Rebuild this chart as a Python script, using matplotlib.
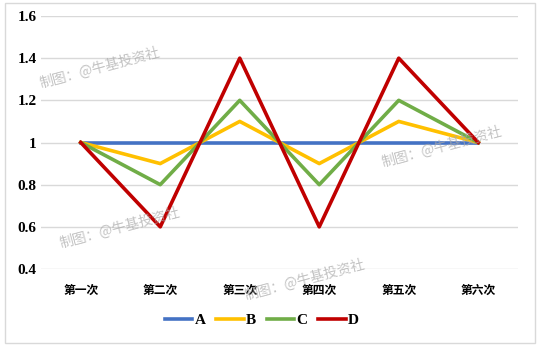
import matplotlib.pyplot as plt
from matplotlib.patches import Rectangle

categories = ['第一次', '第二次', '第三次', '第四次', '第五次', '第六次']
series_names = ['A', 'B', 'C', 'D']
A = [1, 1, 1, 1, 1, 1]
B = [1, 0.9, 1.1, 0.9, 1.1, 1]
C = [1, 0.8, 1.2, 0.8, 1.2, 1]
D = [1, 0.6, 1.4, 0.6, 1.4, 1]
colors = ['#4472C4', '#FFC000', '#70AD47', '#C00000']
yticks = [0.4, 0.6, 0.8, 1.0, 1.2, 1.4, 1.6]
ytick_labels = ['0.4', '0.6', '0.8', '1', '1.2', '1.4', '1.6']

W, H = 540, 348
fig = plt.figure(figsize=(W / 100, H / 100), dpi=100)
fig.patches.append(Rectangle((5 / W, 5 / H), 530 / W, 340 / H, transform=fig.transFigure,
                             fill=False, edgecolor='#d9d9d9', linewidth=1))
ax = fig.add_axes([41 / W, 1 - 269 / H, 477 / W, 253 / H])

x = list(range(len(categories)))
for name, vals, c in zip(series_names, [A, B, C, D], colors):
    ax.plot(x, vals, color=c, linewidth=2.6, label=name)

ax.set_xlim(-0.5, 5.5)
ax.set_ylim(0.4, 1.6)
ax.set_yticks(yticks)
ax.set_yticklabels(ytick_labels, fontfamily='Liberation Serif', fontweight='bold', fontsize=11)
ax.set_xticks(x)
ax.set_xticklabels(categories, fontfamily=['Noto Sans CJK SC'], fontweight='bold', fontsize=8.5)
ax.grid(axis='y', color='#d9d9d9', linewidth=1)
ax.set_axisbelow(True)
for s in ax.spines.values():
    s.set_visible(False)
ax.tick_params(axis='x', length=0, pad=11)
ax.tick_params(axis='y', length=0, pad=3)

leg = fig.legend(loc='center', bbox_to_anchor=(262 / W, 1 - 320 / H), ncol=4, frameon=False,
                 prop={'family': 'Liberation Serif', 'weight': 'bold', 'size': 11},
                 handlelength=1.8, handletextpad=0.15, columnspacing=0.7)

wm = '制图：@牛基投资社'
for (px, py) in [(100, 68), (442, 147), (120, 228), (305, 280)]:
    fig.text(px / W, 1 - py / H, wm, fontfamily=['Noto Sans CJK SC'], fontsize=10,
             color='#aaaaaa', alpha=0.7, rotation=15, ha='center', va='center')

fig.savefig('out.png', dpi=100)
